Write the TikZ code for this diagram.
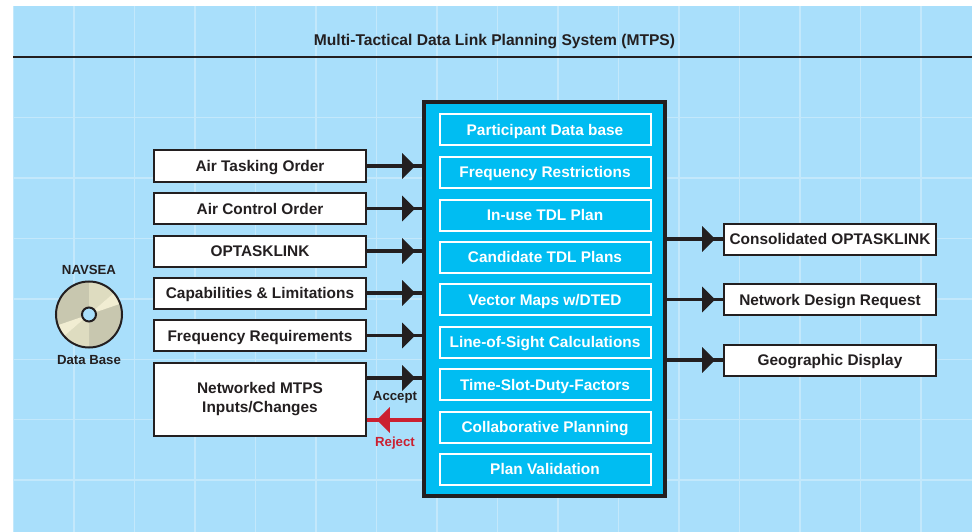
\documentclass[tikz,border=0pt]{standalone}
\usepackage{fontspec}
\setmainfont{Liberation Sans}
\usetikzlibrary{arrows.meta,decorations.markings}
\definecolor{panelblue}{HTML}{A9DFFB}
\definecolor{gridblue}{HTML}{C3E8FB}
\definecolor{cyanbox}{HTML}{00BDF2}
\definecolor{inkblack}{HTML}{231F20}
\definecolor{rejectred}{HTML}{CB2030}
\definecolor{discdark}{HTML}{C8C7AF}
\definecolor{discmid}{HTML}{DEDCC0}
\definecolor{disclight}{HTML}{F1EDD2}
\newcommand{\labelfont}{\fontsize{15.4}{19}\selectfont\bfseries}
\tikzset{
  inbox/.style={draw=inkblack, line width=2pt, fill=white, text=inkblack, minimum width=212pt, minimum height=31pt, inner sep=0pt, align=center, font=\labelfont, text height=11pt, text depth=0pt},
  planbox/.style={draw=white, line width=2pt, text=white, minimum width=211pt, minimum height=31pt, inner sep=0pt, font=\labelfont, text height=11pt, text depth=0pt},
  flowline/.style={line width=3.4pt, draw=inkblack, postaction={decorate}, decoration={markings, mark=at position #1 with {\arrow[inkblack]{Triangle[length=13pt,width=25pt]}}}},
  rejectline/.style={line width=3.4pt, draw=rejectred, postaction={decorate}, decoration={markings, mark=at position 0.82 with {\arrow[rejectred]{Triangle[length=13pt,width=25pt]}}}},
  smalltext/.style={font=\fontsize{13.2}{15}\selectfont\bfseries, text=inkblack, inner sep=0pt, text height=9.5pt, text depth=0pt}
}
\begin{document}
\begin{tikzpicture}[x=1pt, y=-1pt]
  \useasboundingbox (0,0) rectangle (972,532);
  \fill [panelblue] (13,6) rectangle (972,532);
  % grid
  \foreach \i in {0,...,15}
    \draw [gridblue, line width=1.4pt] ({13.5+60.5*\i},6) -- ({13.5+60.5*\i},532);
  \foreach \j in {1,...,7}
    \draw [gridblue, line width=1.4pt] (13,{57+60.45*\j}) -- (972,{57+60.45*\j});
  % title
  \node (title) [font=\fontsize{15.6}{19}\selectfont\bfseries, text=inkblack, inner sep=0pt, text height=11pt, text depth=0pt] at (494.5,40) {Multi-Tactical Data Link Planning System (MTPS)};
  \coordinate (ruleL) at (13,57);
  \coordinate (ruleR) at (972,57);
  \draw [inkblack, line width=2pt] (ruleL) -- (ruleR);
  % planning system
  \node (planner) [draw=inkblack, line width=4.4pt, fill=cyanbox, minimum width=241pt, minimum height=394pt, inner sep=0pt] at (544.5,299) {};
  \node (pdb) [planbox] at (545,130) {Participant Data base};
  \node (restrict) [planbox] at (545,172.5) {Frequency Restrictions};
  \node (inuse) [planbox] at (545,215) {In-use TDL Plan};
  \node (candidate) [planbox] at (545,257) {Candidate TDL Plans};
  \node (vector) [planbox] at (545,299.5) {Vector Maps w/DTED};
  \node (sight) [planbox] at (545,342) {Line-of-Sight Calculations};
  \node (slot) [planbox] at (545,384.5) {Time-Slot-Duty-Factors};
  \node (collab) [planbox] at (545,427) {Collaborative Planning};
  \node (validate) [planbox] at (545,469) {Plan Validation};
  % inputs
  \node (ato) [inbox] at (260,166) {Air Tasking Order};
  \node (aco) [inbox] at (260,208.5) {Air Control Order};
  \node (optask) [inbox] at (260,251) {OPTASKLINK};
  \node (caplim) [inbox] at (260,293) {Capabilities \& Limitations};
  \node (freqreq) [inbox] at (260,335.5) {Frequency Requirements};
  \node (netmtps) [inbox, minimum height=73pt, text height=27pt] at (260,399) {Networked MTPS\\Inputs/Changes};
  \coordinate (acceptL) at (netmtps.east |- 0,378);
  \coordinate (rejectR) at (planner.west |- 0,420);
  \draw [flowline=0.88] (ato.east) -- (ato.east -| planner.west);
  \draw [flowline=0.88] (aco.east) -- (aco.east -| planner.west);
  \draw [flowline=0.88] (optask.east) -- (optask.east -| planner.west);
  \draw [flowline=0.88] (caplim.east) -- (caplim.east -| planner.west);
  \draw [flowline=0.88] (freqreq.east) -- (freqreq.east -| planner.west);
  \draw [flowline=0.88] (acceptL) -- (acceptL -| planner.west);
  \draw [rejectline] (rejectR) -- (rejectR -| netmtps.east);
  \node (accept) [smalltext] at (395,396) {Accept};
  \node (reject) [smalltext, text=rejectred] at (395,441.5) {Reject};
  % outputs
  \node (consol) [inbox] at (830,239) {Consolidated OPTASKLINK};
  \node (netreq) [inbox] at (830,299.5) {Network Design Request};
  \node (geo) [inbox] at (830,360) {Geographic Display};
  \draw [flowline=0.86] (consol.west -| planner.east) -- (consol.west);
  \draw [flowline=0.86] (netreq.west -| planner.east) -- (netreq.west);
  \draw [flowline=0.86] (geo.west -| planner.east) -- (geo.west);
  % data base disc
  \coordinate (disc) at (89,314.5);
  \fill [discdark] (disc) circle (33);
  \fill [discmid] (disc) -- ++(-90:33) arc [start angle=-90, end angle=-41, radius=33] -- cycle;
  \fill [discmid] (disc) -- ++(90:33) arc [start angle=90, end angle=139, radius=33] -- cycle;
  \fill [disclight] (disc) -- ++(-41:33) arc [start angle=-41, end angle=-19, radius=33] -- cycle;
  \fill [disclight] (disc) -- ++(139:33) arc [start angle=139, end angle=161, radius=33] -- cycle;
  \draw [inkblack, line width=2pt] (disc) circle (33);
  \draw [inkblack, line width=2pt, fill=panelblue] (disc) circle (7);
  \node (navsea) [smalltext] at (89,269.5) {NAVSEA};
  \node (database) [smalltext] at (89,359.5) {Data Base};
\end{tikzpicture}
\end{document}
